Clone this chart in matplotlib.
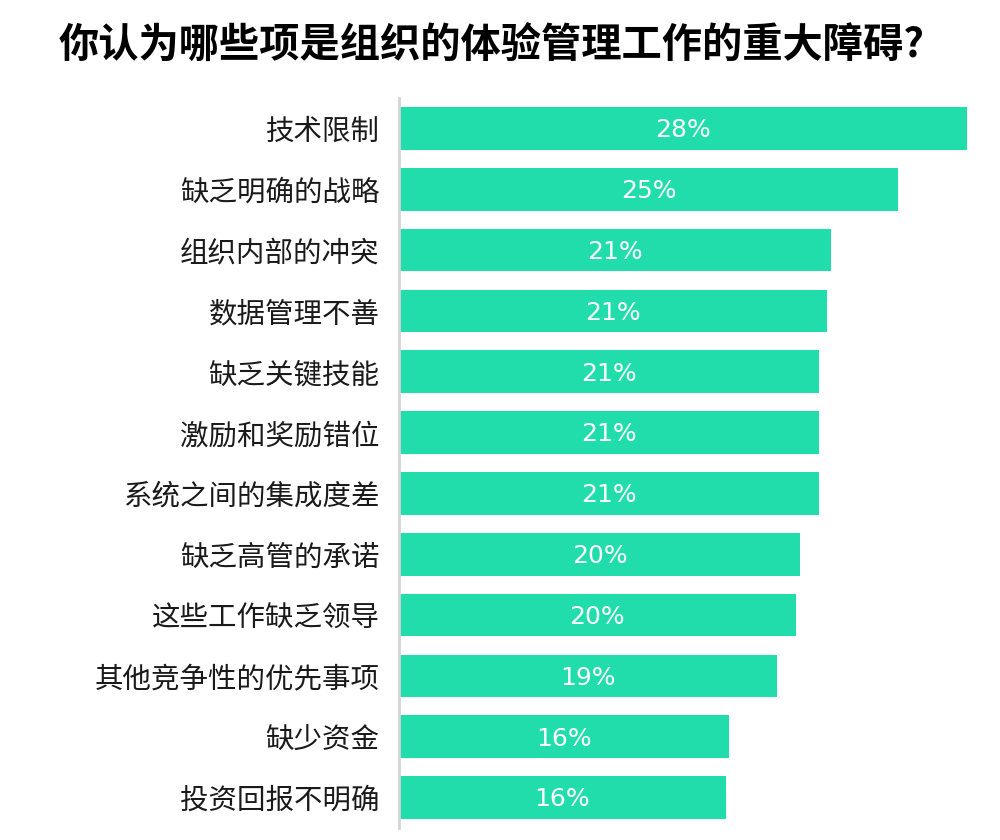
import matplotlib
matplotlib.use("Agg")
import matplotlib.pyplot as plt

title = "你认为哪些项是组织的体验管理工作的重大障碍?"
categories = ["技术限制", "缺乏明确的战略", "组织内部的冲突", "数据管理不善", "缺乏关键技能",
              "激励和奖励错位", "系统之间的集成度差", "缺乏高管的承诺", "这些工作缺乏领导",
              "其他竞争性的优先事项", "缺少资金", "投资回报不明确"]
values = [28.0, 24.6, 21.3, 21.1, 20.7, 20.7, 20.7, 19.75, 19.55, 18.6, 16.25, 16.1]
value_labels = ["28%", "25%", "21%", "21%", "21%", "21%", "21%", "20%", "20%", "19%", "16%", "16%"]

plt.rcParams['font.family'] = ['Noto Sans CJK SC', 'DejaVu Sans']

fig = plt.figure(figsize=(10, 8.4), dpi=100)
ax = fig.add_axes([0.399, 1 - 828 / 840, 0.601, (828 - 98) / 840])

bar_color = "#21DDAB"
y = list(range(len(categories)))
ax.barh(y, values, height=0.7, color=bar_color, edgecolor="none")
for yi, v, lab in zip(y, values, value_labels):
    ax.text(v / 2, yi + 0.03, lab, ha="center", va="center", color="white",
            fontsize=18, family=["DejaVu Sans"])

ax.set_xlim(0, 601 / 20.3)
ax.set_ylim(len(categories) - 0.5, -0.5)
ax.set_yticks(y)
ax.set_yticklabels(categories, fontsize=20.5, color="#1a1a1a")
ax.tick_params(axis="y", length=0, pad=14)
ax.set_xticks([])
for s in ["top", "right", "bottom"]:
    ax.spines[s].set_visible(False)
ax.spines["left"].set_color("#d4d4d4")
ax.spines["left"].set_linewidth(2)

fig.text(0.492, 1 - 46 / 840, title, ha="center", va="center", fontsize=29,
         fontweight="bold", color="black")

fig.savefig("out.png", dpi=100, facecolor="white")
